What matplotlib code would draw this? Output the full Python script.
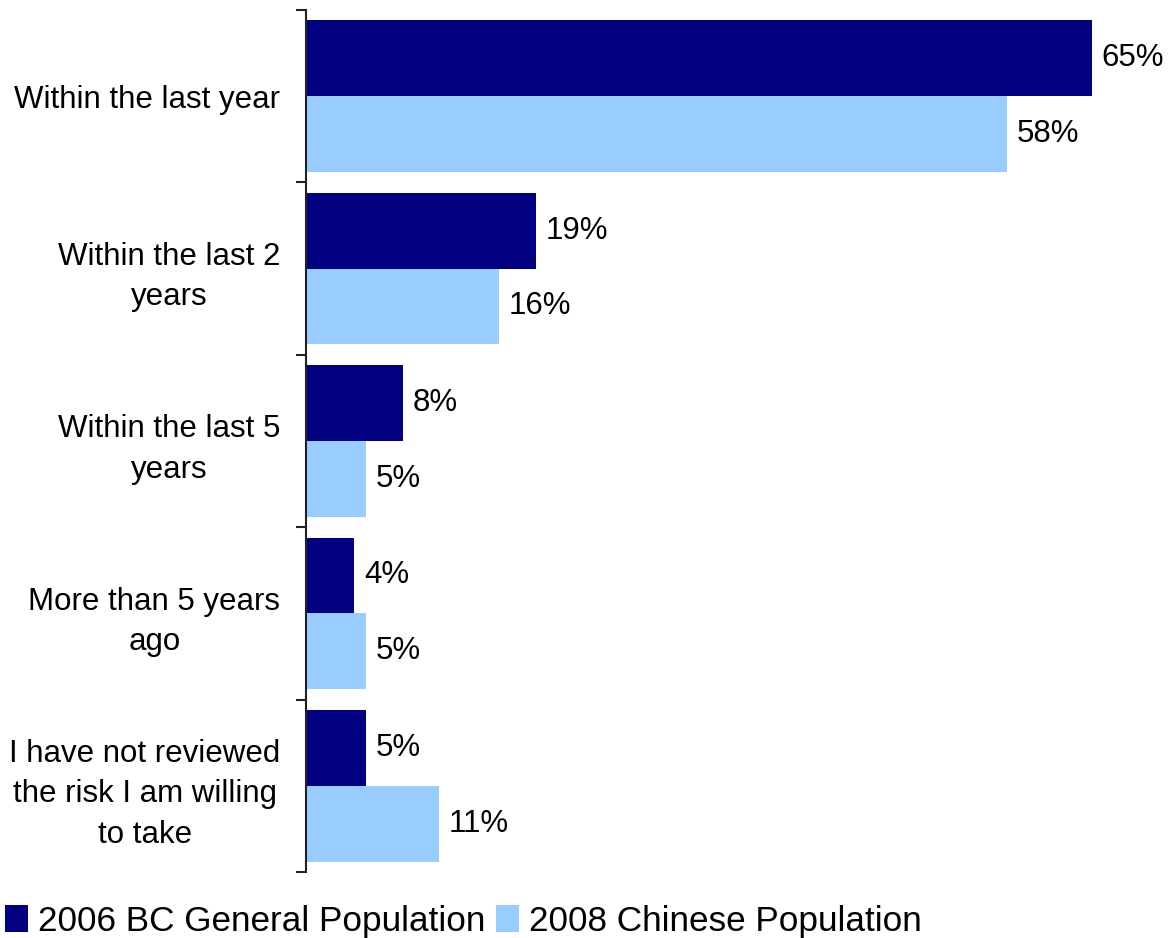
import numpy as np
import matplotlib.pyplot as plt

plt.rcParams['font.family'] = ['Liberation Sans', 'DejaVu Sans']

categories = ['Within the last year', 'Within the last 2\nyears', 'Within the last 5\nyears',
              'More than 5 years\nago', 'I have not reviewed\nthe risk I am willing\nto take']
bc_2006 = [65, 19, 8, 4, 5]
chinese_2008 = [58, 16, 5, 5, 11]
series_names = ['2006 BC General Population', '2008 Chinese Population']

dark = '#000080'
light = '#99CCFF'

fig = plt.figure(figsize=(11.69, 9.38), dpi=100)
ax = fig.add_axes([0.2618, 0.0704, 0.7382, 0.919])

y = np.arange(len(categories))
h = 0.44
b1 = ax.barh(y - 0.22, bc_2006, height=h, color=dark, label=series_names[0])
b2 = ax.barh(y + 0.22, chinese_2008, height=h, color=light, label=series_names[1])

for bars, vals in ((b1, bc_2006), (b2, chinese_2008)):
    for bar, v in zip(bars, vals):
        ax.text(bar.get_width() + 0.8, bar.get_y() + bar.get_height() / 2, f'{v}%',
                va='center', ha='left', fontsize=22.5)

ax.set_xlim(0, 71.4)
ax.set_ylim(len(categories) - 0.5, -0.5)

# group boundaries get the tick marks, labels sit at group centres
ax.set_yticks(y)
ax.set_yticklabels(categories, fontsize=22.5, linespacing=1.45)
ax.set_yticks(np.arange(len(categories) + 1) - 0.5, minor=True)
ax.tick_params(axis='y', which='major', length=0, pad=18.5)
ax.tick_params(axis='y', which='minor', length=7, width=1.5, color='#222222')
for lbl in ax.get_yticklabels():
    lbl.set_multialignment('center')

ax.xaxis.set_visible(False)
for side in ('top', 'right', 'bottom'):
    ax.spines[side].set_visible(False)
ax.spines['left'].set_linewidth(1.5)
ax.spines['left'].set_color('#222222')

fig.legend(handles=[b1, b2], loc='lower left', bbox_to_anchor=(0.004, 0.0), ncol=2,
           frameon=False, fontsize=25.3, handlelength=0.65, handleheight=0.8,
           handletextpad=0.3, columnspacing=0.3, borderaxespad=0.0, borderpad=0.0)

fig.savefig('out.png', dpi=100)
